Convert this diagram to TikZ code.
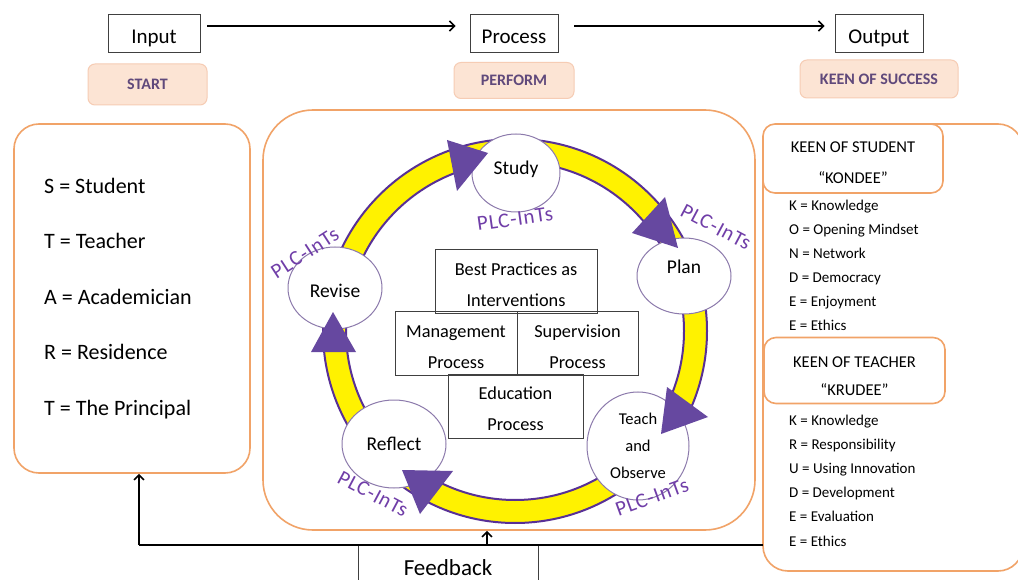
\documentclass[tikz,border=0pt]{standalone}
\usepackage{fontspec}
\setmainfont{Carlito}
\usetikzlibrary{arrows.meta,shapes.geometric,calc}
\definecolor{orng}{RGB}{241,163,104}
\definecolor{peach}{RGB}{252,228,212}
\definecolor{peachline}{RGB}{246,204,180}
\definecolor{tagpurple}{RGB}{96,73,123}
\definecolor{plcpurple}{RGB}{112,62,168}
\definecolor{headpurple}{RGB}{102,72,160}
\definecolor{ringpurple}{RGB}{88,48,150}
\definecolor{circline}{RGB}{140,122,172}
\newcommand{\fs}[1]{\fontsize{#1}{#1}\selectfont}
% top strut (extra height #1 moves text down by #1/2)
\newcommand{\tp}[1][0pt]{\rule{0pt}{\dimexpr1em+#1\relax}}
% bottom strut (extra depth #1 moves text up by #1/2)
\newcommand{\bt}[1][0pt]{\rule[\dimexpr-0.356em-#1\relax]{0pt}{\dimexpr0.356em+#1\relax}}
\tikzset{
  topbox/.style={draw=black!75, line width=0.9pt, minimum height=38pt, inner sep=0pt, font=\fs{21}, text height=28pt, text depth=7.5pt},
  tagbox/.style={draw=peachline, fill=peach, line width=1pt, rounded corners=7pt, inner sep=0pt, font=\bfseries\fs{16}, text=tagpurple, text height=16pt, text depth=5.7pt},
  bigbox/.style={draw=orng, line width=1.6pt, inner sep=0pt},
  keenbox/.style={draw=orng, line width=1.6pt, fill=white, rounded corners=12pt, inner sep=0pt, align=center, font=\fontsize{16.5}{31}\selectfont},
  cbox/.style={draw=black!75, line width=0.8pt, inner sep=0pt, align=center, font=\fontsize{18.3}{31}\selectfont},
  stage/.style={ellipse, draw=circline, line width=1pt, fill=white, inner sep=0pt, align=center, font=\fs{19.5}},
  plc/.style={text=plcpurple, font=\fontsize{21}{21}\selectfont\addfontfeatures{LetterSpace=4}, inner sep=0pt},
  lefttxt/.style={anchor=west, font=\fs{22}, inner sep=0pt, text height=22pt, text depth=7.8pt},
  righttxt/.style={anchor=west, font=\fs{15}, inner sep=0pt, text height=15pt, text depth=5.3pt},
  flow/.style={line width=1.8pt, black, -{Straight Barb[length=5pt,width=10pt,line width=1.6pt]}},
  fbline/.style={line width=1.8pt, black},
  head/.style={fill=headpurple}
}
\begin{document}
\begin{tikzpicture}[x=1pt,y=-1pt]
\useasboundingbox (0,0) rectangle (1018,580);
\fill[white] (0,0) rectangle (1018,580);

% top row
\node[topbox, minimum width=92pt] (input) at (154,33) {Input};
\node[topbox, minimum width=88pt] (process) at (514,33) {Process};
\node[topbox, minimum width=88pt] (output) at (879,33) {Output};
\draw[flow, shorten <=7pt, shorten >=14pt] ([yshift=7pt]input.east) -- ([yshift=7pt]process.west);
\draw[flow, shorten <=16pt, shorten >=10pt] ([yshift=7pt]process.east) -- ([yshift=7pt]output.west);

\node[tagbox, minimum width=119pt, minimum height=41pt] (start) at (147.5,84.5) {START};
\node[tagbox, minimum width=120pt, minimum height=36pt] (perform) at (514,80.5) {PERFORM};
\node[tagbox, minimum width=158pt, minimum height=38pt] (success) at (879,79) {KEEN OF SUCCESS};

% big boxes
\node[bigbox, rounded corners=25pt, minimum width=236pt, minimum height=349pt] (inbox) at (132,298.5) {};
\node[bigbox, rounded corners=50pt, minimum width=492pt, minimum height=420pt] (procbox) at (509,320) {};
\node[bigbox, rounded corners=25pt, minimum width=260pt, minimum height=447pt] (outbox) at (893,347.5) {};

% left list
\node[lefttxt] (l1) at (44,186) {S = Student};
\node[lefttxt] (l2) at (44,241.5) {T = Teacher};
\node[lefttxt] (l3) at (44,297) {A = Academician};
\node[lefttxt] (l4) at (44,352.5) {R = Residence};
\node[lefttxt] (l5) at (44,408) {T = The Principal};

% right side
\node[keenbox, minimum width=180pt, minimum height=69pt] (kstu) at (853,158.5) {\tp[9pt]KEEN OF STUDENT\\“KONDEE”\bt};
\foreach \t [count=\i] in {K = Knowledge, O = Opening Mindset, N = Network, D = Democracy, E = Enjoyment, E = Ethics}
  \node[righttxt] (s\i) at (789,182+24*\i) {\t};
\node[keenbox, minimum width=181pt, minimum height=66pt, font=\fontsize{16.5}{28.5}\selectfont] (ktea) at (854.5,370.5) {\tp[11pt]KEEN OF TEACHER\\“KRUDEE”\bt};
\foreach \t [count=\i] in {K = Knowledge, R = Responsibility, U = Using Innovation, D = Development, E = Evaluation, E = Ethics}
  \node[righttxt] (t\i) at (789,396+24.2*\i) {\t};

% ring
\filldraw[fill=yellow, draw=ringpurple, line width=2pt, even odd rule]
  (515,331) circle[radius=192] (515,331) circle[radius=169];

% centre boxes
\node[cbox, minimum width=162pt, minimum height=63pt] (best) at (516,281.5) {\tp[8pt]Best Practices as\\Interventions\bt};
\node[cbox, minimum width=122pt, minimum height=61pt] (mgmt) at (456,343.5) {\tp[8pt]Management\\Process\bt};
\node[cbox, minimum width=121pt, minimum height=61pt] (sup) at (577.5,343.5) {\tp[8pt]Supervision\\Process\bt};
\node[cbox, minimum width=135pt, minimum height=64pt] (edu) at (515.5,406) {\tp[7pt]Education\\Process\bt};

% stages
\node[stage, minimum width=88pt, minimum height=78pt] (study) at (516,173) {\tp Study\bt[10pt]};
\node[stage, minimum width=94pt, minimum height=76pt] (plan) at (684,276) {\tp Plan\bt[17pt]};
\node[stage, minimum width=102pt, minimum height=88pt, font=\fontsize{16.5}{27}\selectfont] (teach) at (638,446) {\tp Teach\\and\\Observe\bt};
\node[stage, minimum width=104pt, minimum height=88pt] (reflect) at (394,444) {\tp Reflect\bt};
\node[stage, minimum width=94pt, minimum height=82pt] (revise) at (335,288) {\tp[7pt]Revise\bt};

% arrow heads on the ring
\fill[head] (447,140) -- (488,153) -- (457,191) -- cycle;
\fill[head] (665,197) -- (678,248) -- (632,233) -- cycle;
\fill[head] (667,387) -- (708,417) -- (661,434) -- cycle;
\fill[head] (453,471) -- (420,514) -- (402,470) -- cycle;
\fill[head] (311,352) -- (333,312) -- (356,352) -- cycle;

% PLC-InTs labels
\node[plc, rotate=33] (plc1) at (305,253) {PLC-InTs};
\node[plc, rotate=8] (plc2) at (515,219) {PLC-InTs};
\node[plc, rotate=-28] (plc3) at (716,227) {PLC-InTs};
\node[plc, rotate=-28] (plc4) at (373,494) {PLC-InTs};
\node[plc, rotate=20] (plc5) at (652,497) {PLC-InTs};

% feedback
\node[draw=black!75, line width=0.8pt, minimum width=180pt, minimum height=46pt, inner sep=0pt, font=\fs{23}, text height=23pt, text depth=8.2pt] (fb) at (448,568) {Feedback};
\coordinate (fbR) at (763,545);
\coordinate (fbL) at (139,545);
\coordinate (fbM) at (487,545);
\draw[fbline] (fbR) -- (fbL);
\draw[flow] (fbL) -- (fbL |- inbox.south);
\draw[flow] (fbM) -- (fbM |- procbox.south);
\end{tikzpicture}
\end{document}
